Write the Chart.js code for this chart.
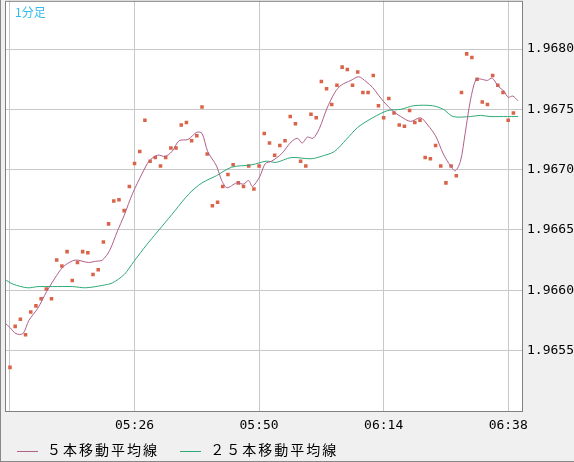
<!DOCTYPE html>
<html>
<head>
<meta charset="utf-8">
<script src="https://cdn.jsdelivr.net/npm/chart.js@4/dist/chart.umd.min.js"></script>
<style>
  html, body { margin: 0; padding: 0; background: #f0f0f0; }
  #wrap { position: relative; width: 574px; height: 462px; box-sizing: border-box; border-left: 1px solid #888; border-bottom: 1px solid #888; overflow: hidden; }
  #myChart { position: absolute; left: 0; top: -11px; }
  #legend { position: absolute; left: 16px; top: 439px; font: 14px "Noto Sans CJK JP", sans-serif; color: #000; }
  #legend span.ln { display: inline-block; width: 21px; height: 1px; vertical-align: middle; margin-right: 9px; }
  #legend span.item { margin-right: 18px; letter-spacing: 2px; }
  #title { position: absolute; left: 14px; top: 3px; font: 12px "Noto Sans CJK JP", sans-serif; color: #33bbee; }
</style>
</head>
<body>
<div id="wrap">
  <canvas id="myChart" width="573" height="473"></canvas>
  <div id="title">1分足</div>
  <div id="legend">
    <span class="item"><span class="ln" style="background:#b0608a"></span>５本移動平均線</span>
    <span class="item"><span class="ln" style="background:#2eaa77"></span>２５本移動平均線</span>
  </div>
</div>
<script>
// 1分ごとの終値 (05:02 から)
var precios = [
  1.96536, 1.96570, 1.96576, 1.96563, 1.96582, 1.96587, 1.96593, 1.96601, 1.96593, 1.96625,
  1.96620, 1.96632, 1.96608, 1.96623, 1.96632, 1.96631, 1.96613, 1.96617, 1.96640, 1.96655,
  1.96674, 1.96675, 1.96666, 1.96686, 1.96705, 1.96715, 1.96741, 1.96707, 1.96710, 1.96703,
  1.96710, 1.96718, 1.96718, 1.96737, 1.96739, 1.96724, 1.96728, 1.96752, 1.96713, 1.96670,
  1.96673, 1.96686, 1.96696, 1.96704, 1.96689, 1.96686, 1.96703, 1.96684, 1.96703, 1.96730,
  1.96722, 1.96712, 1.96720, 1.96724, 1.96744, 1.96738, 1.96707, 1.96703, 1.96746, 1.96743,
  1.96773, 1.96767, 1.96754, 1.96770, 1.96785, 1.96783, 1.96770, 1.96781, 1.96764, 1.96764,
  1.96778, 1.96753, 1.96743, 1.96759, 1.96747, 1.96737, 1.96736, 1.96749, 1.96739, 1.96741,
  1.96710, 1.96709, 1.96720, 1.96703, 1.96689, 1.96703, 1.96695, 1.96764, 1.96796, 1.96793,
  1.96775, 1.96756, 1.96754, 1.96778, 1.96770, 1.96764, 1.96741, 1.96747
];

// 5本移動平均線 (位置, 値)
var ma5X = [-1, 0, 1.15, 2.5, 3.64, 5.36, 7.09, 9.58, 10.7, 12.6, 15.1, 16.5, 17.8, 19.2, 20.7, 22.0, 23.6, 25.5, 26.8, 28.4,
  29.9, 31.2, 32.6, 34.3, 36.0, 37.0, 38.1, 39.8, 40.8, 41.8, 43.7, 45.0, 46.0, 46.7, 48.1, 49.2, 50.4, 52.3, 54.2, 55.4,
  56.3, 57.3, 58.4, 59.6, 61.1, 62.6, 63.8, 65.7, 67.2, 68.6, 69.9, 71.5, 73.4, 75.3, 77.2, 79.1, 80.5, 82.0, 83.5, 84.9,
  85.8, 86.8, 87.7, 88.7, 89.8, 90.8, 92.0, 92.9, 94.1, 95.2, 96.0, 96.9, 97.9];
var ma5Y = [1.96573, 1.96569, 1.96564, 1.96564, 1.96575, 1.96585, 1.96599, 1.96616, 1.96621, 1.96625, 1.96623, 1.96624, 1.96625, 1.96633, 1.96649, 1.96662, 1.96680, 1.96697, 1.96707, 1.96712,
  1.96711, 1.96715, 1.96724, 1.96725, 1.96731, 1.96730, 1.96715, 1.96703, 1.96691, 1.96685, 1.96689, 1.96688, 1.96691, 1.96686, 1.96694, 1.96705, 1.96707, 1.96713, 1.96723, 1.96726,
  1.96722, 1.96727, 1.96726, 1.96734, 1.96751, 1.96764, 1.96770, 1.96774, 1.96777, 1.96773, 1.96768, 1.96759, 1.96750, 1.96744, 1.96740, 1.96743, 1.96737, 1.96728, 1.96713, 1.96703,
  1.96699, 1.96707, 1.96730, 1.96757, 1.96775, 1.96775, 1.96774, 1.96776, 1.96769, 1.96765, 1.96760, 1.96761, 1.96757];

// 25本移動平均線
var ma25X = [-1, 0.6, 3.4, 5.4, 8.2, 12.1, 14.6, 17.8, 19.7, 22.0, 23.9, 26.4, 29.3, 31.8, 34.5, 37.0, 39.8, 42.7, 46.6, 49.4,
  51.3, 54.2, 58.0, 60.0, 62.5, 64.8, 67.0, 69.9, 72.8, 75.3, 77.8, 81.4, 83.5, 85.4, 88.7, 90.6, 92.5, 94.4, 97.3, 97.9];
var ma25Y = [1.96609, 1.96605, 1.96602, 1.96603, 1.96603, 1.96603, 1.96602, 1.96604, 1.96606, 1.96613, 1.96624, 1.96638, 1.96653, 1.96666, 1.96680, 1.96689, 1.96695, 1.96702, 1.96704, 1.96707,
  1.96706, 1.96710, 1.96709, 1.96711, 1.96715, 1.96725, 1.96735, 1.96743, 1.96749, 1.96750, 1.96753, 1.96753, 1.96750, 1.96744, 1.96744, 1.96745, 1.96744, 1.96744, 1.96744, 1.96744];

var etiquetasX = { 24: '05:26', 48: '05:50', 72: '06:14', 96: '06:38' };
var ticksY = [1.9655, 1.9660, 1.9665, 1.9670, 1.9675, 1.9680];

function pares(xs, ys) {
  return xs.map(function (x, i) { return { x: x, y: ys[i] }; });
}

var fondoBlanco = {
  id: 'fondoBlanco',
  beforeDraw: function (chart) {
    var a = chart.chartArea, c = chart.ctx;
    c.save();
    c.fillStyle = '#ffffff';
    c.fillRect(a.left, a.top, a.right - a.left, a.bottom - a.top);
    c.restore();
  },
  afterDraw: function (chart) {
    var a = chart.chartArea, c = chart.ctx;
    c.save();
    c.strokeStyle = '#808080';
    c.lineWidth = 1;
    c.strokeRect(a.left + 0.5, a.top + 0.5, a.right - a.left - 1, a.bottom - a.top - 1);
    c.restore();
  }
};

var ctx = document.getElementById('myChart').getContext('2d');
new Chart(ctx, {
  type: 'scatter',
  data: {
    datasets: [
      {
        label: '5本移動平均線', type: 'line', data: pares(ma5X, ma5Y),
        borderColor: '#b0608a', borderWidth: 1, pointRadius: 0, tension: 0.3
      },
      {
        label: '25本移動平均線', type: 'line', data: pares(ma25X, ma25Y),
        borderColor: '#2eaa77', borderWidth: 1, pointRadius: 0, tension: 0.3
      },
      {
        label: '終値', data: precios.map(function (p, i) { return { x: i, y: p }; }),
        pointStyle: 'rect', pointRadius: 2.5, backgroundColor: '#d9644a', borderWidth: 0
      }
    ]
  },
  options: {
    responsive: false,
    animation: false,
    layout: { padding: { left: 1, top: 0, right: 0, bottom: 0 } },
    plugins: { legend: { display: false }, tooltip: { enabled: false } },
    scales: {
      x: {
        type: 'linear', min: -0.96, max: 98.85,
        afterBuildTicks: function (ax) { ax.ticks = [0, 24, 48, 72, 96].map(function (v) { return { value: v }; }); },
        afterFit: function (ax) { ax.height = 50; },
        ticks: {
          autoSkip: false, maxRotation: 0, color: '#000', padding: 6,
          font: { family: 'DejaVu Sans Mono', size: 13 },
          callback: function (v) { return etiquetasX[v] || ''; }
        },
        grid: { color: '#c8c8c8', drawTicks: false },
        border: { display: false }
      },
      y: {
        position: 'right', min: 1.96499, max: 1.96840,
        afterBuildTicks: function (ax) { ax.ticks = ticksY.map(function (v) { return { value: v }; }); },
        afterFit: function (ax) { ax.width = 51; },
        ticks: {
          color: '#000', padding: 4,
          font: { family: 'DejaVu Sans Mono', size: 13 },
          callback: function (v) { return v.toFixed(4); }
        },
        grid: { color: '#c8c8c8', drawTicks: false },
        border: { display: false }
      }
    }
  },
  plugins: [fondoBlanco]
});
</script>
</body>
</html>
